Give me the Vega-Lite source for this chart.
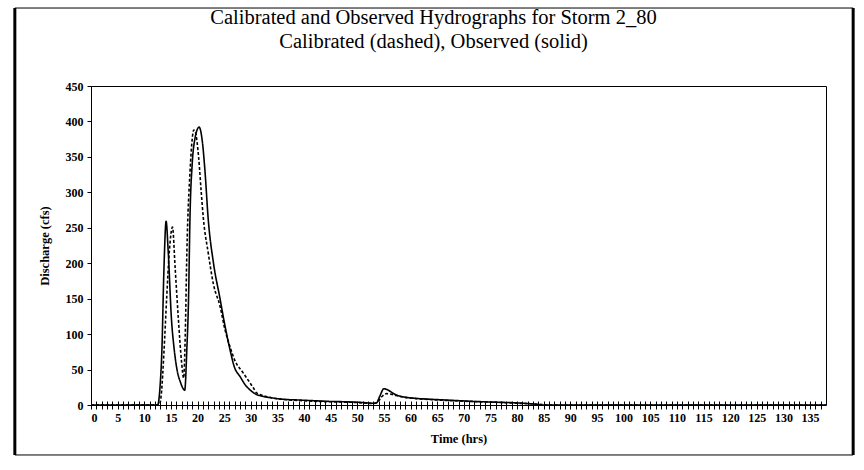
{
  "$schema": "https://vega.github.io/schema/vega-lite/v6.json",
  "width": 735,
  "height": 319,
  "autosize": "none",
  "padding": {"left": 91, "top": 86, "right": 38, "bottom": 65},
  "background": "white",
  "config": {
    "view": {"stroke": "black", "strokeWidth": 1},
    "font": "Liberation Serif",
    "axis": {"grid": false, "domainColor": "black", "tickColor": "black", "labelColor": "black", "titleColor": "black", "labelFont": "Liberation Serif", "titleFont": "Liberation Serif", "labelFontWeight": "bold", "titleFontWeight": "bold", "labelFontSize": 12, "titleFontSize": 12.5}
  },
  "title": {
    "text": ["Calibrated and Observed Hydrographs for Storm 2_80", "Calibrated (dashed), Observed (solid)"],
    "font": "Liberation Serif",
    "fontSize": 20.5,
    "fontWeight": "normal",
    "lineHeight": 24,
    "color": "black",
    "anchor": "middle",
    "dx": -25,
    "offset": -46
  },
  "datasets": {
    "hydro": [
      {"series": "Observed", "t": 0, "q": 0},
      {"series": "Observed", "t": 12.5, "q": 0},
      {"series": "Observed", "t": 13.0, "q": 30},
      {"series": "Observed", "t": 13.3, "q": 75},
      {"series": "Observed", "t": 13.7, "q": 193},
      {"series": "Observed", "t": 14.1, "q": 259},
      {"series": "Observed", "t": 14.5, "q": 216},
      {"series": "Observed", "t": 15.1, "q": 122},
      {"series": "Observed", "t": 15.6, "q": 80},
      {"series": "Observed", "t": 16.1, "q": 52},
      {"series": "Observed", "t": 16.8, "q": 32},
      {"series": "Observed", "t": 17.6, "q": 21},
      {"series": "Observed", "t": 18.0, "q": 80},
      {"series": "Observed", "t": 18.3, "q": 145},
      {"series": "Observed", "t": 18.6, "q": 270},
      {"series": "Observed", "t": 19.0, "q": 340},
      {"series": "Observed", "t": 19.5, "q": 375},
      {"series": "Observed", "t": 20.3, "q": 392},
      {"series": "Observed", "t": 20.9, "q": 372},
      {"series": "Observed", "t": 21.4, "q": 330},
      {"series": "Observed", "t": 22.0, "q": 263},
      {"series": "Observed", "t": 23.0, "q": 200},
      {"series": "Observed", "t": 24.2, "q": 151},
      {"series": "Observed", "t": 25.2, "q": 110},
      {"series": "Observed", "t": 26.1, "q": 78},
      {"series": "Observed", "t": 26.9, "q": 54},
      {"series": "Observed", "t": 28.0, "q": 40},
      {"series": "Observed", "t": 29.0, "q": 28},
      {"series": "Observed", "t": 29.9, "q": 21},
      {"series": "Observed", "t": 31.0, "q": 15},
      {"series": "Observed", "t": 32.4, "q": 12},
      {"series": "Observed", "t": 34.0, "q": 10},
      {"series": "Observed", "t": 35.5, "q": 8.5},
      {"series": "Observed", "t": 39.0, "q": 7},
      {"series": "Observed", "t": 42.0, "q": 6},
      {"series": "Observed", "t": 45.0, "q": 5},
      {"series": "Observed", "t": 48.0, "q": 4.5},
      {"series": "Observed", "t": 51.0, "q": 3.5},
      {"series": "Observed", "t": 53.0, "q": 2.5},
      {"series": "Observed", "t": 53.6, "q": 3},
      {"series": "Observed", "t": 54.2, "q": 12},
      {"series": "Observed", "t": 55.0, "q": 23},
      {"series": "Observed", "t": 55.8, "q": 21},
      {"series": "Observed", "t": 56.6, "q": 17},
      {"series": "Observed", "t": 57.4, "q": 14},
      {"series": "Observed", "t": 59.0, "q": 11},
      {"series": "Observed", "t": 61.0, "q": 9.4},
      {"series": "Observed", "t": 64.0, "q": 8},
      {"series": "Observed", "t": 68.0, "q": 6.5},
      {"series": "Observed", "t": 72.0, "q": 5},
      {"series": "Observed", "t": 76.0, "q": 4},
      {"series": "Observed", "t": 80.0, "q": 3},
      {"series": "Observed", "t": 83.0, "q": 1.5},
      {"series": "Observed", "t": 85.0, "q": 0},
      {"series": "Observed", "t": 138.0, "q": 0},
      {"series": "Calibrated", "t": 0, "q": 0},
      {"series": "Calibrated", "t": 12.8, "q": 0},
      {"series": "Calibrated", "t": 13.2, "q": 15},
      {"series": "Calibrated", "t": 13.7, "q": 75},
      {"series": "Calibrated", "t": 14.2, "q": 150},
      {"series": "Calibrated", "t": 14.7, "q": 216},
      {"series": "Calibrated", "t": 15.3, "q": 251},
      {"series": "Calibrated", "t": 15.8, "q": 193},
      {"series": "Calibrated", "t": 16.4, "q": 122},
      {"series": "Calibrated", "t": 17.0, "q": 61},
      {"series": "Calibrated", "t": 17.4, "q": 38},
      {"series": "Calibrated", "t": 17.7, "q": 100},
      {"series": "Calibrated", "t": 18.0, "q": 216},
      {"series": "Calibrated", "t": 18.6, "q": 330},
      {"series": "Calibrated", "t": 19.0, "q": 375},
      {"series": "Calibrated", "t": 19.3, "q": 388},
      {"series": "Calibrated", "t": 19.6, "q": 385},
      {"series": "Calibrated", "t": 20.2, "q": 350},
      {"series": "Calibrated", "t": 20.7, "q": 300},
      {"series": "Calibrated", "t": 21.1, "q": 263},
      {"series": "Calibrated", "t": 22.0, "q": 215},
      {"series": "Calibrated", "t": 23.0, "q": 170},
      {"series": "Calibrated", "t": 24.2, "q": 140},
      {"series": "Calibrated", "t": 25.2, "q": 105},
      {"series": "Calibrated", "t": 26.1, "q": 82},
      {"series": "Calibrated", "t": 27.0, "q": 63},
      {"series": "Calibrated", "t": 28.6, "q": 45},
      {"series": "Calibrated", "t": 30.5, "q": 24},
      {"series": "Calibrated", "t": 31.1, "q": 17},
      {"series": "Calibrated", "t": 32.5, "q": 13},
      {"series": "Calibrated", "t": 34.0, "q": 10},
      {"series": "Calibrated", "t": 36.0, "q": 8},
      {"series": "Calibrated", "t": 40.0, "q": 6},
      {"series": "Calibrated", "t": 45.0, "q": 4.5},
      {"series": "Calibrated", "t": 50.0, "q": 3.5},
      {"series": "Calibrated", "t": 53.0, "q": 2},
      {"series": "Calibrated", "t": 53.8, "q": 4},
      {"series": "Calibrated", "t": 54.5, "q": 11},
      {"series": "Calibrated", "t": 55.5, "q": 16},
      {"series": "Calibrated", "t": 56.5, "q": 15},
      {"series": "Calibrated", "t": 58.0, "q": 12},
      {"series": "Calibrated", "t": 61.0, "q": 9},
      {"series": "Calibrated", "t": 64.0, "q": 7.5},
      {"series": "Calibrated", "t": 68.0, "q": 6},
      {"series": "Calibrated", "t": 72.0, "q": 4.8},
      {"series": "Calibrated", "t": 76.0, "q": 3.8},
      {"series": "Calibrated", "t": 80.0, "q": 2.5},
      {"series": "Calibrated", "t": 84.0, "q": 1},
      {"series": "Calibrated", "t": 86.0, "q": 0},
      {"series": "Calibrated", "t": 138.0, "q": 0}
    ]
  },
  "resolve": {"axis": {"x": "independent", "y": "independent"}},
  "layer": [
    {
      "data": {"name": "hydro"},
      "mark": {"type": "line", "color": "black", "strokeWidth": 1.6, "interpolate": "monotone"},
      "encoding": {
        "x": {
          "field": "t", "type": "quantitative",
          "scale": {"domain": [0, 138], "nice": false, "zero": false},
          "axis": {
            "orient": "bottom", "title": "Time (hrs)", "titlePadding": 9,
            "offset": -4, "domain": false, "tickSize": 8, "tickWidth": 1,
            "values": [0,1,2,3,4,5,6,7,8,9,10,11,12,13,14,15,16,17,18,19,20,21,22,23,24,25,26,27,28,29,30,31,32,33,34,35,36,37,38,39,40,41,42,43,44,45,46,47,48,49,50,51,52,53,54,55,56,57,58,59,60,61,62,63,64,65,66,67,68,69,70,71,72,73,74,75,76,77,78,79,80,81,82,83,84,85,86,87,88,89,90,91,92,93,94,95,96,97,98,99,100,101,102,103,104,105,106,107,108,109,110,111,112,113,114,115,116,117,118,119,120,121,122,123,124,125,126,127,128,129,130,131,132,133,134,135,136,137],
            "labelExpr": "datum.value % 5 === 0 ? datum.label : ''",
            "labelOverlap": false, "labelPadding": 3
          }
        },
        "y": {
          "field": "q", "type": "quantitative",
          "scale": {"domain": [0, 450], "nice": false},
          "axis": {"title": "Discharge (cfs)", "values": [0,50,100,150,200,250,300,350,400,450], "tickSize": 4, "titlePadding": 14, "labelPadding": 4}
        },
        "strokeDash": {
          "field": "series", "type": "nominal",
          "scale": {"domain": ["Observed", "Calibrated"], "range": [[1, 0], [3, 2]]},
          "legend": null
        },
        "detail": {"field": "series"}
      }
    },
    {
      "data": {"values": [{}]},
      "mark": {"type": "rect", "fill": null, "stroke": "black", "strokeWidth": 1, "clip": false},
      "encoding": {
        "x": {"datum": -14.3, "type": "quantitative", "axis": null},
        "x2": {"datum": 143.1},
        "y": {"datum": -70.5, "type": "quantitative", "axis": null},
        "y2": {"datum": 560}
      }
    },
    {
      "data": {"values": [{}]},
      "mark": {"type": "rule", "stroke": "black", "strokeWidth": 3, "clip": false},
      "encoding": {
        "x": {"datum": -14.3, "type": "quantitative", "axis": null},
        "y": {"datum": -70.5, "type": "quantitative", "axis": null},
        "y2": {"datum": 560}
      }
    },
    {
      "data": {"values": [{}]},
      "mark": {"type": "rule", "stroke": "black", "strokeWidth": 3, "clip": false},
      "encoding": {
        "x": {"datum": 143.1, "type": "quantitative", "axis": null},
        "y": {"datum": -70.5, "type": "quantitative", "axis": null},
        "y2": {"datum": 560}
      }
    }
  ]
}
